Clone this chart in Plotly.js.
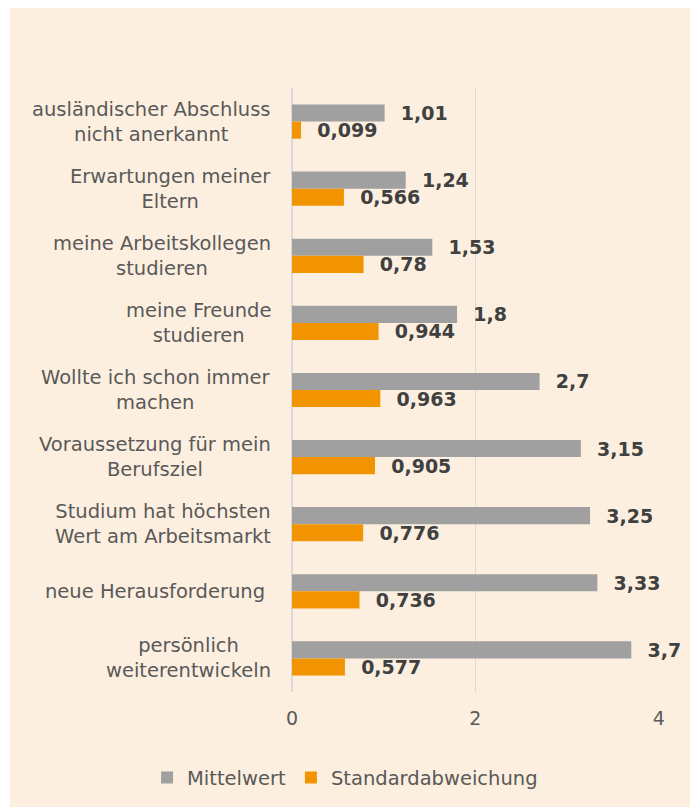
<!DOCTYPE html>
<html>
<head>
<meta charset="utf-8">
<script src="https://cdn.plot.ly/plotly-3.0.1.min.js"></script>
<style>
  html, body { margin: 0; padding: 0; background: #ffffff; width: 690px; height: 807px; overflow: hidden; }
  #chart { position: absolute; left: 10px; top: 8px; width: 680px; height: 799px; }
</style>
</head>
<body>
<div id="chart"></div>
<script>
const categories = [
  "ausländischer Abschluss<br>nicht anerkannt",
  "Erwartungen meiner<br>Eltern",
  "meine Arbeitskollegen<br>studieren",
  "meine Freunde<br>studieren",
  "Wollte ich schon immer<br>machen",
  "Voraussetzung für mein<br>Berufsziel",
  "Studium hat höchsten<br>Wert am Arbeitsmarkt",
  "neue Herausforderung\u00a0",
  "persönlich<br>weiterentwickeln"
];
const mittelwert = [1.01, 1.24, 1.53, 1.8, 2.7, 3.15, 3.25, 3.33, 3.7];
const standardabweichung = [0.099, 0.566, 0.78, 0.944, 0.963, 0.905, 0.776, 0.736, 0.577];
const seriesNames = ["Mittelwert", "Standardabweichung"];
const xTicks = [0, 2, 4];

const FONT = "DejaVu Sans, Verdana, sans-serif";
const labelFont = { family: FONT, size: 19, color: "#404040", weight: "bold" };

const traces = [
  {
    type: "bar", orientation: "h", name: seriesNames[0],
    x: mittelwert, y: categories,
    marker: { color: "#A0A0A0", line: { width: 0 } },
    texttemplate: "\u00a0\u00a0%{x}", textposition: "outside",
    textfont: labelFont, constraintext: "none", cliponaxis: false,
    hoverinfo: "x+name"
  },
  {
    type: "bar", orientation: "h", name: seriesNames[1],
    x: standardabweichung, y: categories,
    marker: { color: "#F29400", line: { width: 0 } },
    texttemplate: "\u00a0\u00a0%{x}", textposition: "outside",
    textfont: labelFont, constraintext: "none", cliponaxis: false,
    hoverinfo: "x+name"
  }
];

const annotations = categories.map(c => ({
  x: 0, xref: "paper", y: c, yref: "y",
  xanchor: "right", yanchor: "middle", xshift: -19,
  align: "center", showarrow: false, text: c,
  font: { family: FONT, size: 19.5, color: "#595959" }
}));

const layout = {
  width: 680, height: 799,
  margin: { l: 282, r: 31, t: 80, b: 115, autoexpand: false },
  paper_bgcolor: "#FCEFDF", plot_bgcolor: "#FCEFDF",
  separators: ", ",
  barmode: "group", bargap: 0.49, bargroupgap: 0,
  font: { family: FONT, color: "#595959", size: 18 },
  xaxis: {
    range: [0, 4.002], tickvals: xTicks, ticktext: xTicks.map(String),
    showgrid: true, gridcolor: "#D9D9D9", gridwidth: 1.5,
    zeroline: true, zerolinecolor: "#D9D9D9", zerolinewidth: 1.5,
    showline: false, ticks: "", ticklabelstandoff: 13,
    tickfont: { family: FONT, size: 19, color: "#595959" }
  },
  yaxis: {
    type: "category", autorange: "reversed",
    showticklabels: false, showgrid: false, zeroline: false, showline: false, ticks: ""
  },
  showlegend: true,
  legend: {
    orientation: "h", x: -0.395, xanchor: "left", y: -0.142, yanchor: "middle",
    font: { family: FONT, size: 19.5, color: "#595959" },
    bgcolor: "rgba(0,0,0,0)", itemwidth: 30, traceorder: "normal", itemclick: false
  },
  annotations: annotations
};

Plotly.newPlot("chart", traces, layout, { displayModeBar: false, staticPlot: true });
</script>
</body>
</html>
